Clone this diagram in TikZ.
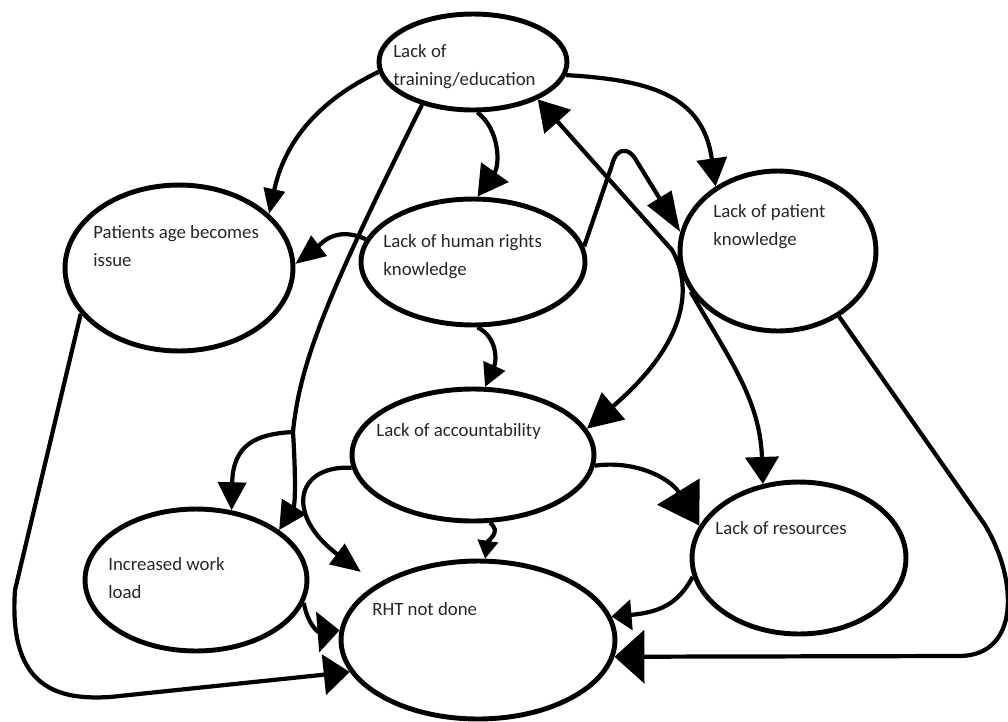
\documentclass[tikz,border=0pt]{standalone}
\usepackage{fontspec}
\setmainfont{Carlito}
\usetikzlibrary{shapes.geometric,arrows.meta}
\begin{document}
\begin{tikzpicture}[x=0.02cm,y=-0.02cm,
  ell/.style={ellipse,draw,line width=2.8pt,inner sep=0pt},
  lbl/.style={anchor=base west,inner sep=0pt,align=left,font=\fontsize{10.7}{15.9}\selectfont,text=black!85},
  con/.style={line width=2.4pt},
  ah/.style 2 args={con,-{Triangle[length=#1,width=#2]}},
]
\useasboundingbox (0,0) rectangle (1008,721);
% ellipses
\node[ell,minimum width=3.76cm,minimum height=1.92cm] (T) at (473,62) {};
\node[ell,minimum width=4.56cm,minimum height=3.32cm] (PA) at (179,268) {};
\node[ell,minimum width=4.48cm,minimum height=2.52cm] (HR) at (473,262) {};
\node[ell,minimum width=3.92cm,minimum height=3.20cm] (PK) at (778,251) {};
\node[ell,minimum width=4.84cm,minimum height=2.64cm] (AC) at (473,455) {};
\node[ell,minimum width=4.44cm,minimum height=2.84cm] (IWL) at (196,580) {};
\node[ell,minimum width=4.28cm,minimum height=3.04cm] (RS) at (799,558) {};
\node[ell,minimum width=5.48cm,minimum height=3.16cm] (RHT) at (478,640) {};
% labels (base = baseline of the last line)
\node[lbl] (tT) at (393,85) {Lack of\\training/education};
\node[lbl] (tPA) at (93,266) {Patients age becomes\\issue};
\node[lbl] (tHR) at (383,275) {Lack of human rights\\knowledge};
\node[lbl] (tPK) at (713,245) {Lack of patient\\knowledge};
\node[lbl] (tAC) at (376,436) {Lack of accountability};
\node[lbl] (tIWL) at (108,598) {Increased work\\load};
\node[lbl] (tRS) at (715,534) {Lack of resources};
\node[lbl] (tRHT) at (372,615) {RHT not done};
% connectors
\coordinate (br) at (293,432);
\draw[ah={0.5cm}{0.42cm}] (T.186) .. controls (320,100) and (285,140) .. (PA.31);
\draw[ah={0.6cm}{0.66cm}] (T.275) .. controls (500,130) and (500,165) .. (HR.86);
\draw[ah={0.56cm}{0.6cm}] (T.352) .. controls (650,80) and (703,95) .. (PK.134);
\draw[con,{Triangle[length=0.6cm,width=0.7cm]}-{Triangle[length=0.7cm,width=0.7cm]}]
  (T.330) -- (672,250) .. controls (692,285) and (690,340) .. (AC.13);
\draw[ah={0.56cm}{0.56cm}] (T.220) .. controls (330,290) and (300,360) .. (br)
  .. controls (296,480) and (295,505) .. (IWL.31);
\draw[ah={0.56cm}{0.56cm}] (br) .. controls (255,434) and (233,445) .. (IWL.63);
\draw[ah={0.8cm}{0.55cm}] (HR.8) -- (612,165) .. controls (616,148) and (628,146) .. (636,160) -- (PK.169);
\draw[ah={0.6cm}{0.5cm}] (HR.168) .. controls (335,225) and (320,245) .. (PA.2);
\draw[ah={0.46cm}{0.46cm}] (HR.274) .. controls (497,337) and (497,360) .. (AC.80);
\draw[ah={0.54cm}{0.66cm}] (PK.205) .. controls (730,360) and (760,400) .. (RS.116);
\draw[ah={0.8cm}{0.98cm}] (AC.355) .. controls (635,460) and (670,478) .. (RS.162);
\draw[ah={0.6cm}{0.5cm},shorten >=0.4cm] (AC.186) .. controls (295,465) and (285,515) .. (RHT.151);
\draw[ah={0.36cm}{0.4cm}] (AC.284) .. controls (502,532) and (488,540) .. (RHT.85);
\draw[ah={0.4cm}{0.6cm}] (RS.190) .. controls (680,600) and (665,612) .. (RHT.10);
\draw[ah={0.6cm}{1.06cm}] (PK.313) -- (985,525) .. controls (1018,580) and (1020,655) .. (960,656) -- (RHT.353);
\draw[ah={0.44cm}{0.8cm}] (IWL.348) .. controls (308,625) and (318,632) .. (RHT.176);
\draw[ah={0.52cm}{0.8cm}] (PA.205) -- (15,590) .. controls (8,690) and (60,700) .. (110,697) -- (RHT.194);
\end{tikzpicture}
\end{document}
